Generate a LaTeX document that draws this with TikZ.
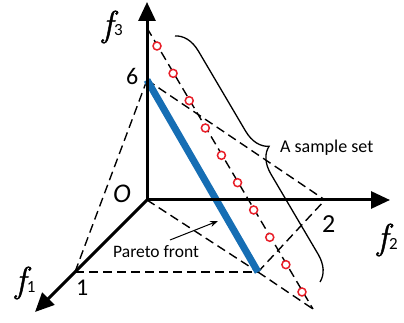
\documentclass[tikz,border=0pt]{standalone}
\usepackage{fontspec}
\setmainfont{Carlito}
\newfontfamily\lmfont[ItalicFeatures={FakeBold=1.2}]{Latin Modern Roman}
\usetikzlibrary{arrows.meta,decorations.pathreplacing}
\definecolor{pblue}{RGB}{22,110,180}
\definecolor{pred}{RGB}{232,30,40}
\tikzset{
  axis/.style={line width=3pt,-{Triangle[length=19pt,width=17pt]}},
  dsh/.style={line width=1.4pt,dash pattern=on 9pt off 5pt},
  front/.style={line width=7pt,pblue},
  samp/.style={circle,draw=pred,fill=white,line width=1.5pt,minimum size=8pt,inner sep=0pt},
  bracestyle/.style={line width=1.3pt,decorate,decoration={brace,amplitude=25pt,aspect=0.5}},
  lbl/.style={inner sep=0pt,anchor=base west},
}
\newcommand{\fvar}[1]{{\fontsize{36}{38}\selectfont\lmfont\itshape f}\kern1pt{\fontsize{17}{19}\selectfont #1}}
\begin{document}
\begin{tikzpicture}[x=1pt,y=-1pt]
\useasboundingbox (0,0) rectangle (404,323);
\coordinate (O) at (147,200);
\coordinate (Z6) at (147,80);
\coordinate (Y2) at (325,200);
\coordinate (X1) at (75,272);
\coordinate (P) at (258,272);
\coordinate (Q) at (313,309);
\coordinate (T) at (147,28);
\coordinate (Zt) at (147,2);
\coordinate (Yt) at (390,200);
\coordinate (Xt) at (35,312);
% dashed construction lines
\draw[dsh] (Z6) -- (X1);
\draw[dsh] (Z6) -- (Y2);
\draw[dsh] (X1) -- (P);
\draw[dsh] (O) -- (P);
\draw[dsh] (P) -- (Y2);
\draw[dsh] (P) -- (Q);
\draw[dsh] (T) -- (Q);
% Pareto front
\draw[front] (Z6) -- (P);
% axes
\draw[axis] (O) -- (Zt);
\draw[axis] (O) -- (Yt);
\draw[axis] (O) -- (Xt);
% sample points
\foreach \i in {0,...,9}{
  \pgfmathsetmacro{\sx}{157+16.11*\i}
  \pgfmathsetmacro{\sy}{46+27.33*\i}
  \node[samp] (s\i) at (\sx,\sy) {};
}
% brace
\coordinate (b1) at (175,36);
\coordinate (b2) at (320,282);
\draw[bracestyle] (b1) -- (b2);
% labels
\node[lbl] (f3) at (102,36) {\fvar{3}};
\node[lbl] (f1) at (15,292) {\fvar{1}};
\node[lbl] (f2) at (377,249) {\fvar{2}};
\node[lbl] (n6) at (126,85) {\fontsize{24}{26}\selectfont 6};
\node[lbl] (n1) at (76,295) {\fontsize{24}{26}\selectfont 1};
\node[lbl] (n2) at (322,232) {\fontsize{26}{28}\selectfont 2};
\node[lbl] (nO) at (113,202) {\fontsize{27}{29}\selectfont\itshape O};
\node[lbl] (ss) at (280,153) {\fontsize{18}{20}\selectfont A sample set};
\node[lbl] (pf) at (113,257) {\fontsize{17.5}{19}\selectfont Pareto front};
% pointer to the Pareto front
\coordinate (pa) at (170,240);
\coordinate (pb) at (218,221);
\draw[line width=1pt,-{Stealth[length=8pt,width=6pt]}] (pa) -- (pb);
\end{tikzpicture}
\end{document}
